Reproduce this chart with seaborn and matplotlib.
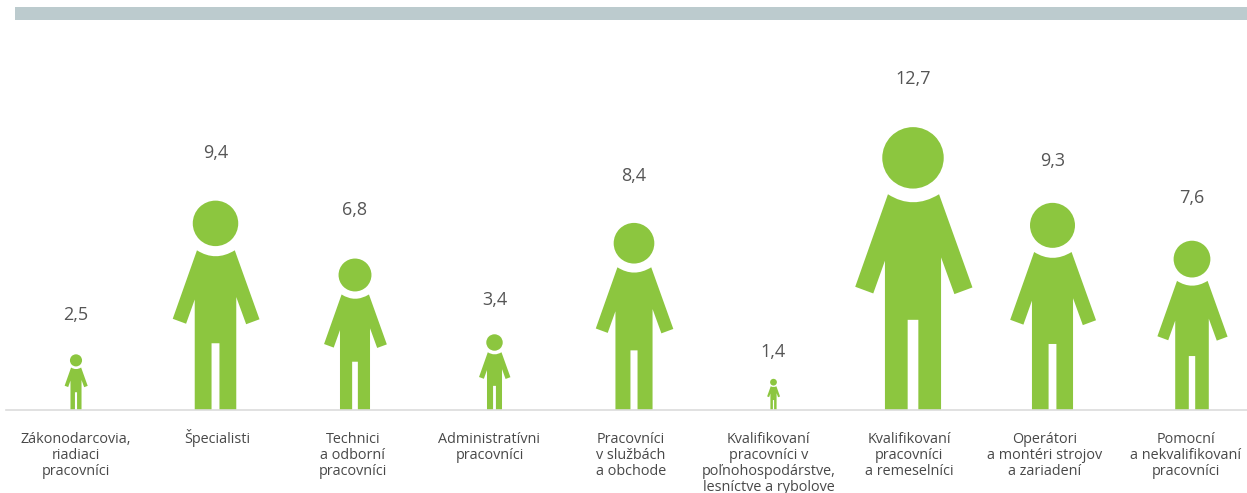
import matplotlib
matplotlib.use('Agg')
import matplotlib.pyplot as plt
import seaborn as sns
import pandas as pd
from matplotlib.patches import Ellipse, PathPatch, Rectangle
from matplotlib.path import Path
from matplotlib.transforms import ScaledTranslation

categories = [
    'Zákonodarcovia,\nriadiaci\npracovníci',
    'Špecialisti',
    'Technici\na odborní\npracovníci',
    'Administratívni\npracovníci',
    'Pracovníci\nv službách\na obchode',
    'Kvalifikovaní\npracovníci v\npoľnohospodárstve,\nlesníctve a rybolove',
    'Kvalifikovaní\npracovníci\na remeselníci',
    'Operátori\na montéri strojov\na zariadení',
    'Pomocní\na nekvalifikovaní\npracovníci',
]
values = [2.5, 9.4, 6.8, 3.4, 8.4, 1.4, 12.7, 9.3, 7.6]
value_labels = ['2,5', '9,4', '6,8', '3,4', '8,4', '1,4', '12,7', '9,3', '7,6']

# layout, in pixels
W, H = 1247, 493
BASE_Y = 410
PX_PER_UNIT = 22.3
PX_PER_CAT = 139.5
FIRST_X = 76
label_gaps = [39, 47, 48, 34, 47, 27, 48, 42, 43]
label_nudge_x = [0, 2, -2, -5, -3, -5, -4, -8, -6]
label_nudge_y = [0, 3, 0, 0, 0, 0, 0, 0, 0]

GREEN = '#8CC63F'

# silhouette, as share of the figure height (x from the centre, y from the feet)
S = 848.0
outline = [(-75, 646), (0, 598), (78, 646), (178, 367), (124, 347),
           (84, 457), (84, 0), (16, 0), (16, 270), (-16, 270), (-16, 0), (-84, 0),
           (-84, 447), (-119, 349), (-173, 369), (-75, 646)]
codes = [Path.MOVETO, Path.CURVE3, Path.CURVE3] + [Path.LINETO] * 12 + [Path.CLOSEPOLY]
head_y = 755 / S
head_r = 92 / S

sns.set_theme(style='white')
plt.rcParams['font.family'] = ['Open Sans', 'DejaVu Sans']

df = pd.DataFrame({'category': categories, 'value': values})

fig = plt.figure(figsize=(W / 100, H / 100), dpi=100)
ax = fig.add_axes([6 / W, (H - BASE_Y) / H, (W - 6) / W, BASE_Y / H])
ax.patch.set_alpha(0)

# invisible bars give position and height of every person
sns.barplot(data=df, x='category', y='value', ax=ax, color=GREEN, width=0.5)
bars = list(ax.patches)

ax.set_xlim((6 - FIRST_X) / PX_PER_CAT, (W - FIRST_X) / PX_PER_CAT)
ax.set_ylim(0, BASE_Y / PX_PER_UNIT)

aspect = PX_PER_UNIT / PX_PER_CAT
for bar, txt, gap in zip(bars, value_labels, label_gaps):
    bar.set_visible(False)
    cx = bar.get_x() + bar.get_width() / 2
    h = bar.get_height()
    verts = [(cx + x / S * h * aspect, y / S * h) for x, y in outline]
    ax.add_patch(PathPatch(Path(verts, codes), facecolor=GREEN, edgecolor='none', clip_on=False))
    ax.add_patch(Ellipse((cx, head_y * h), 2 * head_r * h * aspect, 2 * head_r * h,
                         facecolor=GREEN, edgecolor='none'))
    ax.annotate(txt, (cx, h), xytext=(0, gap * 0.72), textcoords='offset points',
                ha='center', va='center', fontsize=13, color='#555555')

sns.despine(ax=ax, left=True)
ax.spines['bottom'].set_color('#dcdcdc')
ax.spines['bottom'].set_linewidth(1.2)
ax.set_xlabel('')
ax.set_ylabel('')
ax.set_yticks([])
ax.tick_params(axis='x', length=0, pad=16, labelsize=10.4, labelcolor='#484848')
for tick, dx, dy in zip(ax.get_xticklabels(), label_nudge_x, label_nudge_y):
    tick.set_linespacing(1.08)
    tick.set_transform(tick.get_transform() + ScaledTranslation(dx / 100, dy / 100, fig.dpi_scale_trans))

# band on top
fig.add_artist(Rectangle((15 / W, (H - 20) / H), (W - 15) / W, 13 / H, transform=fig.transFigure,
                         facecolor='#BCCBCE', edgecolor='none'))

fig.savefig('out.png', dpi=100)
plt.close(fig)
